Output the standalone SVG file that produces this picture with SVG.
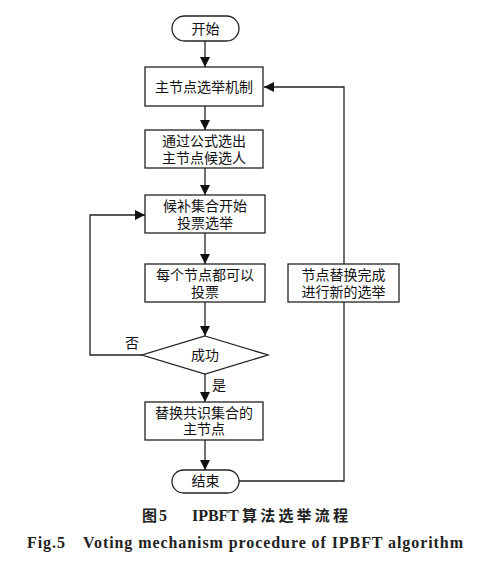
<svg xmlns="http://www.w3.org/2000/svg" width="484" height="568" viewBox="0 0 484 568">
<style>
.box{fill:#fff;stroke:#222;stroke-width:1.3}
.ln{fill:none;stroke:#222;stroke-width:1.3}
.t{font-family:"Liberation Serif","Noto Sans CJK SC",serif;font-size:14px;fill:#111;text-anchor:middle}
.cap{font-family:"Liberation Serif","Noto Sans CJK SC",serif;font-weight:bold;fill:#222}
</style>
<defs>
<marker id="ah" viewBox="0 0 10 10" refX="10" refY="5" markerWidth="10" markerHeight="10" markerUnits="userSpaceOnUse" orient="auto">
<path d="M0,0 L10,5 L0,10 Z" fill="#111"/>
</marker>
</defs>
<g id="connectors">
<line class="ln" x1="205" y1="41" x2="205" y2="67" marker-end="url(#ah)"/>
<line class="ln" x1="205" y1="106" x2="205" y2="130" marker-end="url(#ah)"/>
<line class="ln" x1="205" y1="168" x2="205" y2="195" marker-end="url(#ah)"/>
<line class="ln" x1="205" y1="233" x2="205" y2="264" marker-end="url(#ah)"/>
<line class="ln" x1="205" y1="302" x2="205" y2="336" marker-end="url(#ah)"/>
<polyline class="ln" points="142,355 90,355 90,215 145,215" marker-end="url(#ah)"/>
<line class="ln" x1="205" y1="374" x2="205" y2="402" marker-end="url(#ah)"/>
<line class="ln" x1="205" y1="440" x2="205" y2="470" marker-end="url(#ah)"/>
<polyline class="ln" points="239,481 344,481 344,87 264,87" marker-end="url(#ah)"/>
<text class="t" x="132" y="348">否</text>
<text class="t" x="219" y="390">是</text>
</g>
<g id="start">
<rect class="box" x="172" y="16" width="67" height="25" rx="12.5"/>
<text class="t" x="205.5" y="33.5">开始</text>
</g>
<g id="n1">
<rect class="box" x="145" y="67" width="118" height="39"/>
<text class="t" x="204" y="92">主节点选举机制</text>
</g>
<g id="n2">
<rect class="box" x="145" y="130" width="118" height="38"/>
<text class="t" x="204" y="146">通过公式选出</text>
<text class="t" x="204" y="163">主节点候选人</text>
</g>
<g id="n3">
<rect class="box" x="145" y="195" width="120" height="38"/>
<text class="t" x="205" y="211">候补集合开始</text>
<text class="t" x="205" y="228">投票选举</text>
</g>
<g id="n4">
<rect class="box" x="145" y="264" width="120" height="38"/>
<text class="t" x="205" y="280">每个节点都可以</text>
<text class="t" x="205" y="297">投票</text>
</g>
<g id="decision">
<polygon class="box" points="205,336 268,355 205,374 142,355"/>
<text class="t" x="205" y="360">成功</text>
</g>
<g id="n5">
<rect class="box" x="145" y="402" width="118" height="38"/>
<text class="t" x="204" y="418">替换共识集合的</text>
<text class="t" x="204" y="434">主节点</text>
</g>
<g id="end">
<rect class="box" x="172" y="470" width="67" height="23" rx="11.5"/>
<text class="t" x="205.5" y="486">结束</text>
</g>
<g id="label">
<rect class="box" x="288" y="264" width="111" height="38"/>
<text class="t" x="343.5" y="280">节点替换完成</text>
<text class="t" x="343.5" y="297">进行新的选举</text>
</g>
<g id="caption">
<text class="cap" font-size="15" x="142" y="521">图<tspan x="159" font-size="16">5</tspan><tspan x="192" font-size="16" textLength="47" lengthAdjust="spacing">IPBFT</tspan><tspan x="242" textLength="106" lengthAdjust="spacing">算法选举流程</tspan></text>
<text class="cap" font-size="16" x="27" y="548" textLength="38" lengthAdjust="spacing">Fig.5</text>
<text class="cap" font-size="16" x="83" y="548" textLength="380" lengthAdjust="spacing">Voting mechanism procedure of IPBFT algorithm</text>
</g>
</svg>
